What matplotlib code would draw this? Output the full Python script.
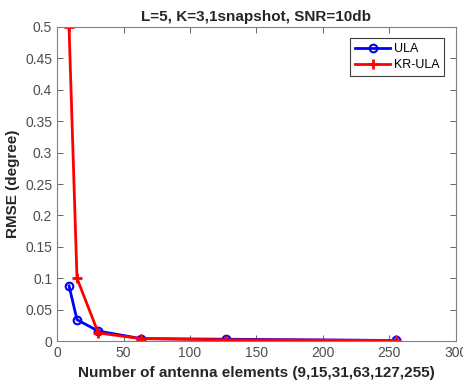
import matplotlib
matplotlib.use('Agg')
import matplotlib.pyplot as plt

plt.rcParams['font.family'] = ['Liberation Sans', 'DejaVu Sans']

# data
n_elements = [9, 15, 31, 63, 127, 255]
rmse_ula = [0.088, 0.034, 0.016, 0.004, 0.003, 0.001]
rmse_krula = [0.5, 0.1, 0.013, 0.004, 0.002, 0.001]

fig = plt.figure(figsize=(4.64, 3.85), dpi=100)
ax = fig.add_axes([0.123, 0.114, 0.859, 0.816])

ax.plot(n_elements, rmse_ula, color='#0000ff', lw=2, marker='o', ms=5.5,
        mfc='none', mew=1.5, label='ULA')
ax.plot(n_elements, rmse_krula, color='#ff0000', lw=2, marker='+', ms=7,
        mew=2, label='KR-ULA')

ax.set_xlim(0, 300)
ax.set_ylim(0, 0.5)
ax.set_xticks([0, 50, 100, 150, 200, 250, 300])
ax.set_yticks([0, 0.05, 0.1, 0.15, 0.2, 0.25, 0.3, 0.35, 0.4, 0.45, 0.5])
ax.set_yticklabels(['0', '0.05', '0.1', '0.15', '0.2', '0.25', '0.3',
                    '0.35', '0.4', '0.45', '0.5'])

gray = '#4d4d4d'
ax.tick_params(direction='in', top=True, right=True, labelsize=10,
               colors=gray, length=4, width=0.6)
for s in ax.spines.values():
    s.set_color('#808080')
    s.set_linewidth(0.8)

ax.set_xlabel('Number of antenna elements (9,15,31,63,127,255)',
              fontsize=11, fontweight='bold', color='#262626')
ax.set_ylabel('RMSE (degree)', fontsize=11, fontweight='bold', color='#262626')
ax.set_title('L=5, K=3,1snapshot, SNR=10db', fontsize=11, fontweight='bold',
             color='#262626', pad=4)

leg = ax.legend(loc='upper right', fontsize=9, fancybox=False,
                edgecolor='#404040', framealpha=1, handlelength=2.8,
                handletextpad=0.3, borderaxespad=0.9, labelspacing=0.3)
leg.get_frame().set_linewidth(0.8)

fig.savefig('out.png', dpi=100)
